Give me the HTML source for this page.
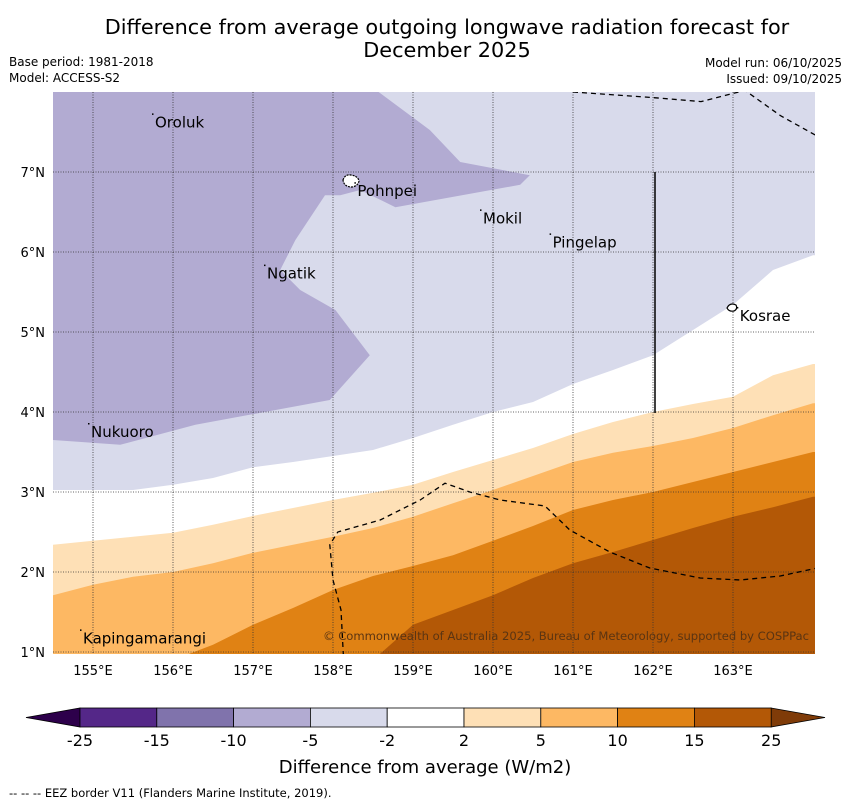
<!DOCTYPE html>
<html><head><meta charset="utf-8"><style>
body{margin:0;background:#fff;font-family:"Liberation Sans","DejaVu Sans",sans-serif}
svg text{font-family:"DejaVu Sans","Liberation Sans",sans-serif}
</style></head><body>
<svg id="c" width="850" height="804" xmlns="http://www.w3.org/2000/svg">
<text x="447" y="34" font-size="20.8" text-anchor="middle">Difference from average outgoing longwave radiation forecast for</text>
<text x="447" y="57" font-size="20.8" text-anchor="middle">December 2025</text>
<text x="9" y="66" font-size="12">Base period: 1981-2018</text>
<text x="9" y="82" font-size="12">Model: ACCESS-S2</text>
<text x="842" y="67" font-size="12" text-anchor="end">Model run: 06/10/2025</text>
<text x="842" y="83" font-size="12" text-anchor="end">Issued: 09/10/2025</text>
<defs><clipPath id="pc"><rect x="53" y="92" width="762" height="562"/></clipPath></defs>
<g id="plot" clip-path="url(#pc)"></g>
<g id="over"></g>
<g id="cb"></g>
<text x="425" y="773" font-size="18" text-anchor="middle">Difference from average (W/m2)</text>
<text x="9" y="797" font-size="11.5">--  --  -- EEZ border V11 (Flanders Marine Institute, 2019).</text>
</svg>
<script>
const NS="http://www.w3.org/2000/svg";
const lons=[154.5,155,155.5,156,156.5,157,157.5,158,158.5,159,159.5,160,160.5,161,161.5,162,162.5,163,163.5,164];
const bandColors=["#ffffff","#fee0b6","#fdb863","#e08214","#b35806"];
const bLight=[3.025,3.025,3.025,3.09,3.175,3.31,3.375,3.45,3.525,3.675,3.84,4.0,4.125,4.35,4.525,4.71,5.025,5.34,5.775,5.96];
const bWhite=[2.34,2.39,2.44,2.49,2.59,2.7,2.8,2.9,2.99,3.09,3.25,3.4,3.55,3.725,3.875,4.0,4.1,4.19,4.46,4.6];
const bPale=[1.71,1.84,1.94,2.0,2.11,2.24,2.34,2.44,2.55,2.69,2.86,3.025,3.2,3.375,3.49,3.575,3.675,3.8,3.96,4.11];
const bMid=[0.5,0.5,0.5,0.9,1.09,1.34,1.55,1.775,1.95,2.075,2.21,2.39,2.575,2.775,2.9,3.0,3.125,3.25,3.375,3.5];
const bDark=[0.5,0.5,0.5,0.5,0.5,0.5,0.5,0.5,0.9,1.34,1.525,1.71,1.925,2.11,2.25,2.4,2.55,2.69,2.81,2.94];
const blobLon=[154.5,158.3,159.21,159.59,160.46,160.34,158.78,158.34,158.09,157.9,157.53,157.34,157.59,158.03,158.46,157.96,156.28,155.34,154.5];
const blobLat=[8.2,8.2,7.525,7.125,6.96,6.84,6.56,6.775,6.71,6.71,6.15,5.775,5.525,5.275,4.71,4.15,3.84,3.59,3.65];
const eez1Lon=[161.0,162.0,162.6,163.15,163.6,164.05,164.6];
const eez1Lat=[8,7.93,7.88,8.02,7.7,7.45,7.2];
const eez2Lon=[158.13,158.1,158.0,157.96,158.06,158.59,159.09,159.4,159.71,160.09,160.65,160.96,161.46,161.96,162.59,163.09,163.59,164.1];
const eez2Lat=[0.95,1.525,1.9,2.34,2.5,2.65,2.9,3.11,3.0,2.9,2.825,2.525,2.25,2.05,1.925,1.9,1.95,2.06];
const ticksLon=[155,156,157,158,159,160,161,162,163];
const ticksLat=[1,2,3,4,5,6,7];
const islands=["Oroluk","Pohnpei","Mokil","Pingelap","Ngatik","Kosrae","Nukuoro","Kapingamarangi"];
const islLon=[155.75,158.28,159.85,160.72,157.15,163.06,154.95,154.85];
const islLat=[7.72,6.86,6.52,6.22,5.83,5.3,3.85,1.27];
const cbLevels=["-25","-15","-10","-5","-2","2","5","10","15","25"];
const cbColors=["#542788","#8073ac","#b2abd2","#d8daeb","#ffffff","#fee0b6","#fdb863","#e08214","#b35806"];
const xS=l=>53+(l-154.5)*80, yS=a=>92+(8-a)*80;
function el(t,a,p){const e=document.createElementNS(NS,t);for(const k in a)e.setAttribute(k,a[k]);p.appendChild(e);return e;}
const P=document.getElementById('plot'),O=document.getElementById('over'),C=document.getElementById('cb');
let bg=el('rect',{x:53,y:92,width:762,height:562,fill:'#d8daeb'},P);


let bp=el('polygon',{points:blobLon.map((l,i)=>xS(l)+','+yS(blobLat[i])).join(' '),fill:'#b2abd2'},P);


const bounds=[bLight,bWhite,bPale,bMid,bDark];
bounds.forEach((b,k)=>{
 const pts=lons.map((l,i)=>xS(l)+','+yS(b[i]));
 pts.push(xS(164.5)+','+yS(b[b.length-1]));
 pts.push(xS(164.5)+',700',xS(154.5)+',700');
 const p=el('polygon',{points:pts.join(' '),fill:bandColors[k]},P);
 
 
});
ticksLon.forEach(l=>{const g=el('line',{x1:xS(l),x2:xS(l),y1:92,y2:654,stroke:'#333','stroke-width':0.8,'stroke-dasharray':'1,1.5'},P);
 
 });
ticksLat.forEach(a=>{const g=el('line',{x1:53,x2:815,y1:yS(a),y2:yS(a),stroke:'#333','stroke-width':0.8,'stroke-dasharray':'1,1.5'},P);
 
 });
[[eez1Lon,eez1Lat],[eez2Lon,eez2Lat]].forEach(([lo,la],k)=>{
 const p=el('polyline',{points:lo.map((l,i)=>xS(l)+','+yS(la[i])).join(' '),fill:'none',stroke:'#000','stroke-width':1.3,'stroke-dasharray':'5,4'},P);
 
 
});
let vl=el('line',{x1:655,x2:655,y1:172,y2:413,stroke:'#000','stroke-width':1.5},P);


let pi=el('path',{d:'M343,180 q2,-6 8,-5 q7,1 8,6 q-1,5 -7,6 q-8,0 -9,-7z',fill:'#fff',stroke:'#000','stroke-width':1.2,'stroke-dasharray':'2,1'},P);


let ki=el('path',{d:'M727,308 q3,-6 9,-3 q2,4 -2,6 q-5,1 -7,-3z',fill:'#fff',stroke:'#000','stroke-width':1.2},P);


islands.forEach((n,i)=>{
 const x=xS(islLon[i]),y=yS(islLat[i]);
 const t=el('text',{x:x+2,y:y+13,'font-size':15},P);t.textContent=n;
 
 
 const d=el('rect',{x:x-1,y:y-1,width:1.5,height:1.5,fill:'#000'},P);
 
 
});
let cr=el('text',{x:323,y:640,'font-size':11.6,fill:'#5a3412',textLength:486},O);
cr.textContent='© Commonwealth of Australia 2025, Bureau of Meteorology, supported by COSPPac';


ticksLon.forEach(l=>{const t=el('text',{x:xS(l),y:675,'font-size':13,'text-anchor':'middle'},O);t.textContent=l+'°E';
 
 });
ticksLat.forEach(a=>{const t=el('text',{x:45,y:yS(a)+5,'font-size':13,'text-anchor':'end'},O);t.textContent=a+'°N';
 
 });
const cx=i=>80+i*76.8;
let le=el('polygon',{points:'26,717.5 80,708 80,727',fill:'#2d004b',stroke:'#000','stroke-width':0.8},C);


let re=el('polygon',{points:'771,708 825,717.5 771,727',fill:'#7f3b08',stroke:'#000','stroke-width':0.8},C);


cbColors.forEach((c,i)=>{const r=el('rect',{x:cx(i),y:708,width:76.8,height:19,fill:c,stroke:'#000','stroke-width':0.8},C);
 
 });
cbLevels.forEach((v,i)=>{const t=el('text',{x:cx(i),y:746,'font-size':16,'text-anchor':'middle'},C);t.textContent=v;
 
 });
</script>
</body></html>
